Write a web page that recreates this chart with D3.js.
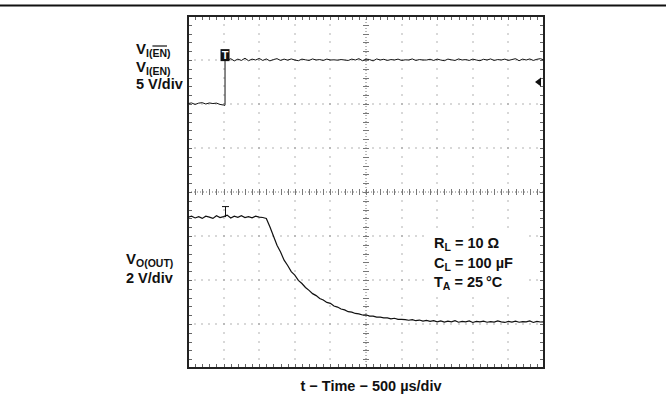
<!DOCTYPE html>
<html><head><meta charset="utf-8">
<script src="https://cdn.jsdelivr.net/npm/d3@7"></script>
<style>
body{margin:0;background:#fff}
svg{display:block}
text{font-family:"Liberation Sans",Arial,sans-serif;font-weight:bold;fill:#111}
</style>
</head><body>
<svg id="c" width="666" height="408"></svg>
<script>
// ---- data (time in µs relative to trigger, voltages in V) ----
const timeDomain = [-500, 4500];            // 10 div x 500 µs/div
const ch1VoltsPerDiv = 5, ch1GroundDiv = 2; // ground position, divisions from top
const ch2VoltsPerDiv = 2, ch2GroundDiv = 7;
const ch1Trace = [
 [-500,0.05],[-450,0.12],[-400,-0.05],[-350,0.1],[-300,0.15],[-250,0.0],[-200,0.12],[-150,0.05],[-100,0.1],[-50,-0.05],[0,-0.12],[15,-0.18],[20,-0.1],[20,5.1],
 [50,4.95],[100,5.15],[150,4.9],[200,5.1],[250,4.95],[300,5.2],[350,4.92],[400,5.1],[450,5.0],[500,5.18],[550,4.95],[600,5.12],[650,4.9],[700,5.05],[750,5.15],[800,4.95],
 [850,5.1],[900,4.98],[950,5.12],[1000,5.0],[1050,4.92],[1100,5.1],[1150,5.02],[1200,4.95],[1250,5.12],[1300,5.0],[1350,5.05],[1400,4.95],[1450,5.1],[1500,5.0],[1550,5.02],
 [1600,4.98],[1650,5.05],[1700,5.0],[1750,4.95],[1800,5.1],[1850,5.0],[1900,5.15],[1950,4.92],[2000,5.1],[2050,5.05],[2100,4.9],[2150,5.12],[2200,5.0],[2250,5.08],[2300,4.95],
 [2350,5.05],[2400,5.0],[2450,5.1],[2500,4.95],[2550,5.02],[2600,5.0],[2650,5.12],[2700,4.95],[2750,5.05],[2800,5.0],[2850,5.0],[2900,5.08],[2950,4.95],[3000,5.1],[3050,5.0],
 [3100,4.92],[3150,5.1],[3200,5.02],[3250,4.95],[3300,5.12],[3350,5.0],[3400,5.05],[3450,4.95],[3500,5.1],[3550,5.0],[3600,4.92],[3650,5.08],[3700,5.0],[3750,5.12],[3800,4.95],
 [3850,5.05],[3900,5.0],[3950,5.1],[4000,4.95],[4050,5.05],[4100,5.15],[4150,4.92],[4200,5.1],[4250,5.0],[4300,5.12],[4350,4.95],[4400,5.08],[4450,5.15],[4500,5.0]
];
const ch2Trace = [
 [-500,4.85],[-450,4.9],[-400,4.82],[-350,4.88],[-300,4.8],[-250,4.9],[-200,4.86],[-150,4.8],[-100,4.92],[-50,4.84],[0,4.88],[50,4.95],[100,4.82],[150,4.9],[200,4.85],
 [250,4.92],[300,4.84],[350,4.88],[400,4.83],[450,4.9],[500,4.86],[550,4.84],[600,4.8],[650,4.42],[700,4.0],[750,3.58],[800,3.27],[850,2.9],[900,2.66],[950,2.38],[1000,2.22],
 [1050,1.98],[1100,1.84],[1150,1.66],[1200,1.53],[1250,1.38],[1300,1.29],[1350,1.16],[1400,1.09],[1450,0.98],[1500,0.94],[1550,0.82],[1600,0.77],[1650,0.68],[1700,0.64],
 [1750,0.56],[1800,0.54],[1850,0.48],[1900,0.46],[1950,0.41],[2000,0.42],[2050,0.36],[2100,0.36],[2150,0.31],[2200,0.31],[2250,0.28],[2300,0.28],[2350,0.23],[2400,0.26],
 [2450,0.21],[2500,0.21],[2550,0.2],[2600,0.17],[2650,0.2],[2700,0.15],[2750,0.18],[2800,0.13],[2850,0.16],[2900,0.12],[2950,0.15],[3000,0.1],[3050,0.14],[3100,0.09],
 [3150,0.13],[3200,0.1],[3250,0.15],[3300,0.08],[3350,0.12],[3400,0.1],[3450,0.14],[3500,0.07],[3550,0.12],[3600,0.1],[3650,0.13],[3700,0.08],[3750,0.11],[3800,0.09],
 [3850,0.14],[3900,0.1],[3950,0.07],[4000,0.12],[4050,0.09],[4100,0.13],[4150,0.08],[4200,0.11],[4250,0.1],[4300,0.14],[4350,0.07],[4400,0.12],[4450,0.09],[4500,0.1]
];
const ch1TriggerTime = 20, ch2MarkerTime = 20, ch1TriggerLevel = 2.5;
const xDivisions = 10, yDivisions = 8, minorPerDiv = 5;
const conditions = [["R","L"," = 10 Ω"],["C","L"," = 100 µF"],["T","A"," = 25\u2009°C"]];
const xTitle = "t − Time − 500 µs/div";

// ---- layout ----
const svg = d3.select("#c");
const L = 188, R = 544, T = 16, B = 368;
const xDiv = d3.scaleLinear([0, xDivisions], [L, R]);
const yDiv = d3.scaleLinear([0, yDivisions], [T, B]);
const x = d3.scaleLinear(timeDomain, [L, R]);
const y1 = d3.scaleLinear([-(yDivisions - ch1GroundDiv) * ch1VoltsPerDiv, ch1GroundDiv * ch1VoltsPerDiv], [B, T]);
const y2 = d3.scaleLinear([-(yDivisions - ch2GroundDiv) * ch2VoltsPerDiv, ch2GroundDiv * ch2VoltsPerDiv], [B, T]);

// top rule
svg.append("line").attr("x1",0).attr("x2",666).attr("y1",5.5).attr("y2",5.5).attr("stroke","#111").attr("stroke-width",2);

// grid
const g = svg.append("g");
const minorX = d3.range(0, xDivisions * minorPerDiv + 1).map(i => i / minorPerDiv);
const minorY = d3.range(0, yDivisions * minorPerDiv + 1).map(i => i / minorPerDiv);
const dotColor = "#666";
for (let i = 1; i < xDivisions; i++) {
  if (i === xDivisions / 2) continue;
  minorY.filter(m => m > 0 && m < yDivisions).forEach(m => {
    g.append("rect").attr("x", Math.round(xDiv(i)) - 0.5).attr("y", Math.round(yDiv(m)) - 0.5).attr("width",1).attr("height",1).attr("fill",dotColor);
  });
}
for (let j = 1; j < yDivisions; j++) {
  if (j === yDivisions / 2) continue;
  minorX.filter(m => m > 0 && m < xDivisions).forEach(m => {
    g.append("rect").attr("x", Math.round(xDiv(m)) - 0.5).attr("y", Math.round(yDiv(j)) - 0.5).attr("width",1).attr("height",1).attr("fill",dotColor);
  });
}
// center lines with ticks
const cx = Math.round(xDiv(xDivisions / 2)), cy = Math.round(yDiv(yDivisions / 2));
g.append("line").attr("x1",cx).attr("x2",cx).attr("y1",T).attr("y2",B).attr("stroke","#777").attr("stroke-dasharray","1,2");
g.append("line").attr("x1",L).attr("x2",R).attr("y1",cy).attr("y2",cy).attr("stroke","#777").attr("stroke-dasharray","1,2");
minorY.forEach(m => g.append("line").attr("x1",cx-3).attr("x2",cx+3).attr("y1",Math.round(yDiv(m))+0.5).attr("y2",Math.round(yDiv(m))+0.5).attr("stroke","#777"));
minorX.forEach(m => g.append("line").attr("y1",cy-3).attr("y2",cy+3).attr("x1",Math.round(xDiv(m))+0.5).attr("x2",Math.round(xDiv(m))+0.5).attr("stroke","#777"));
// edge ticks
minorX.forEach(m => {
  const px = Math.round(xDiv(m)) + 0.5;
  g.append("line").attr("x1",px).attr("x2",px).attr("y1",T).attr("y2",T+4).attr("stroke","#666");
  g.append("line").attr("x1",px).attr("x2",px).attr("y1",B-4).attr("y2",B).attr("stroke","#666");
});
minorY.forEach(m => {
  const py = Math.round(yDiv(m)) + 0.5;
  g.append("line").attr("x1",L).attr("x2",L+4).attr("y1",py).attr("y2",py).attr("stroke","#666");
  g.append("line").attr("x1",R-4).attr("x2",R).attr("y1",py).attr("y2",py).attr("stroke","#666");
});

// conditions box
svg.append("rect").attr("x",425).attr("y",231).attr("width",103).attr("height",62).attr("fill","#fff");
conditions.forEach((c, i) => {
  const t = svg.append("text").attr("x",434).attr("y",248 + i*19.5).attr("font-size",14.5);
  t.append("tspan").text(c[0]);
  t.append("tspan").attr("font-size",10.5).attr("dy",3).text(c[1]);
  t.append("tspan").attr("dy",-3).text(c[2]);
});

// frame
svg.append("rect").attr("x",L).attr("y",T).attr("width",R-L).attr("height",B-T).attr("fill","none").attr("stroke","#222").attr("stroke-width",2);

// traces
const line1 = d3.line().x(d => x(d[0])).y(d => y1(d[1]));
const line2 = d3.line().x(d => x(d[0])).y(d => y2(d[1]));
svg.append("path").attr("d", line1(ch1Trace)).attr("fill","none").attr("stroke","#111").attr("stroke-width",1);
svg.append("path").attr("d", line2(ch2Trace)).attr("fill","none").attr("stroke","#111").attr("stroke-width",1.2);

// trigger markers
const tx = x(ch1TriggerTime), ty = y1(5.1);
svg.append("rect").attr("x",tx-4.5).attr("y",ty-10).attr("width",9).attr("height",12).attr("fill","#111");
svg.append("text").attr("x",tx).attr("y",ty).attr("text-anchor","middle").attr("font-size",11).style("fill","#fff").text("T");
const mx = Math.round(x(ch2MarkerTime)) + 0.5, my = y2(4.86);
svg.append("line").attr("x1",mx-3.5).attr("x2",mx+3.5).attr("y1",my-10.5).attr("y2",my-10.5).attr("stroke","#111");
svg.append("line").attr("x1",mx).attr("x2",mx).attr("y1",my-10.5).attr("y2",my).attr("stroke","#111");
// trigger level arrow at right edge
const ay = y1(ch1TriggerLevel);
svg.append("path").attr("d", `M${R-9},${ay} L${R-3},${ay-4.5} L${R-3},${ay+4.5} Z`).attr("fill","#111");

// channel labels
function chanLabel(xp, yp, sub, overIdx) {
  const t = svg.append("text").attr("x",xp).attr("y",yp).attr("font-size",15);
  t.append("tspan").text("V");
  let over = null;
  sub.forEach((p, i) => {
    const ts = t.append("tspan").attr("font-size",10.5).attr("dy", i === 0 ? 3 : 0).text(p);
    if (i === overIdx) over = ts;
  });
  if (over) {
    const bb = over.node().getBBox();
    svg.append("line").attr("x1",bb.x).attr("x2",bb.x+bb.width).attr("y1",bb.y-1).attr("y2",bb.y-1).attr("stroke","#111").attr("stroke-width",1.2);
  }
}
chanLabel(136, 54, ["I(", "EN", ")"], 1);
chanLabel(136, 72, ["I(EN)"], -1);
svg.append("text").attr("x",136).attr("y",89).attr("font-size",14.5).text("5 V/div");
chanLabel(126, 264, ["O(OUT)"], -1);
svg.append("text").attr("x",126).attr("y",283).attr("font-size",14.5).text("2 V/div");

// x title
svg.append("text").attr("x",371).attr("y",391).attr("text-anchor","middle").attr("font-size",14.5).text(xTitle);
</script>
</body></html>
